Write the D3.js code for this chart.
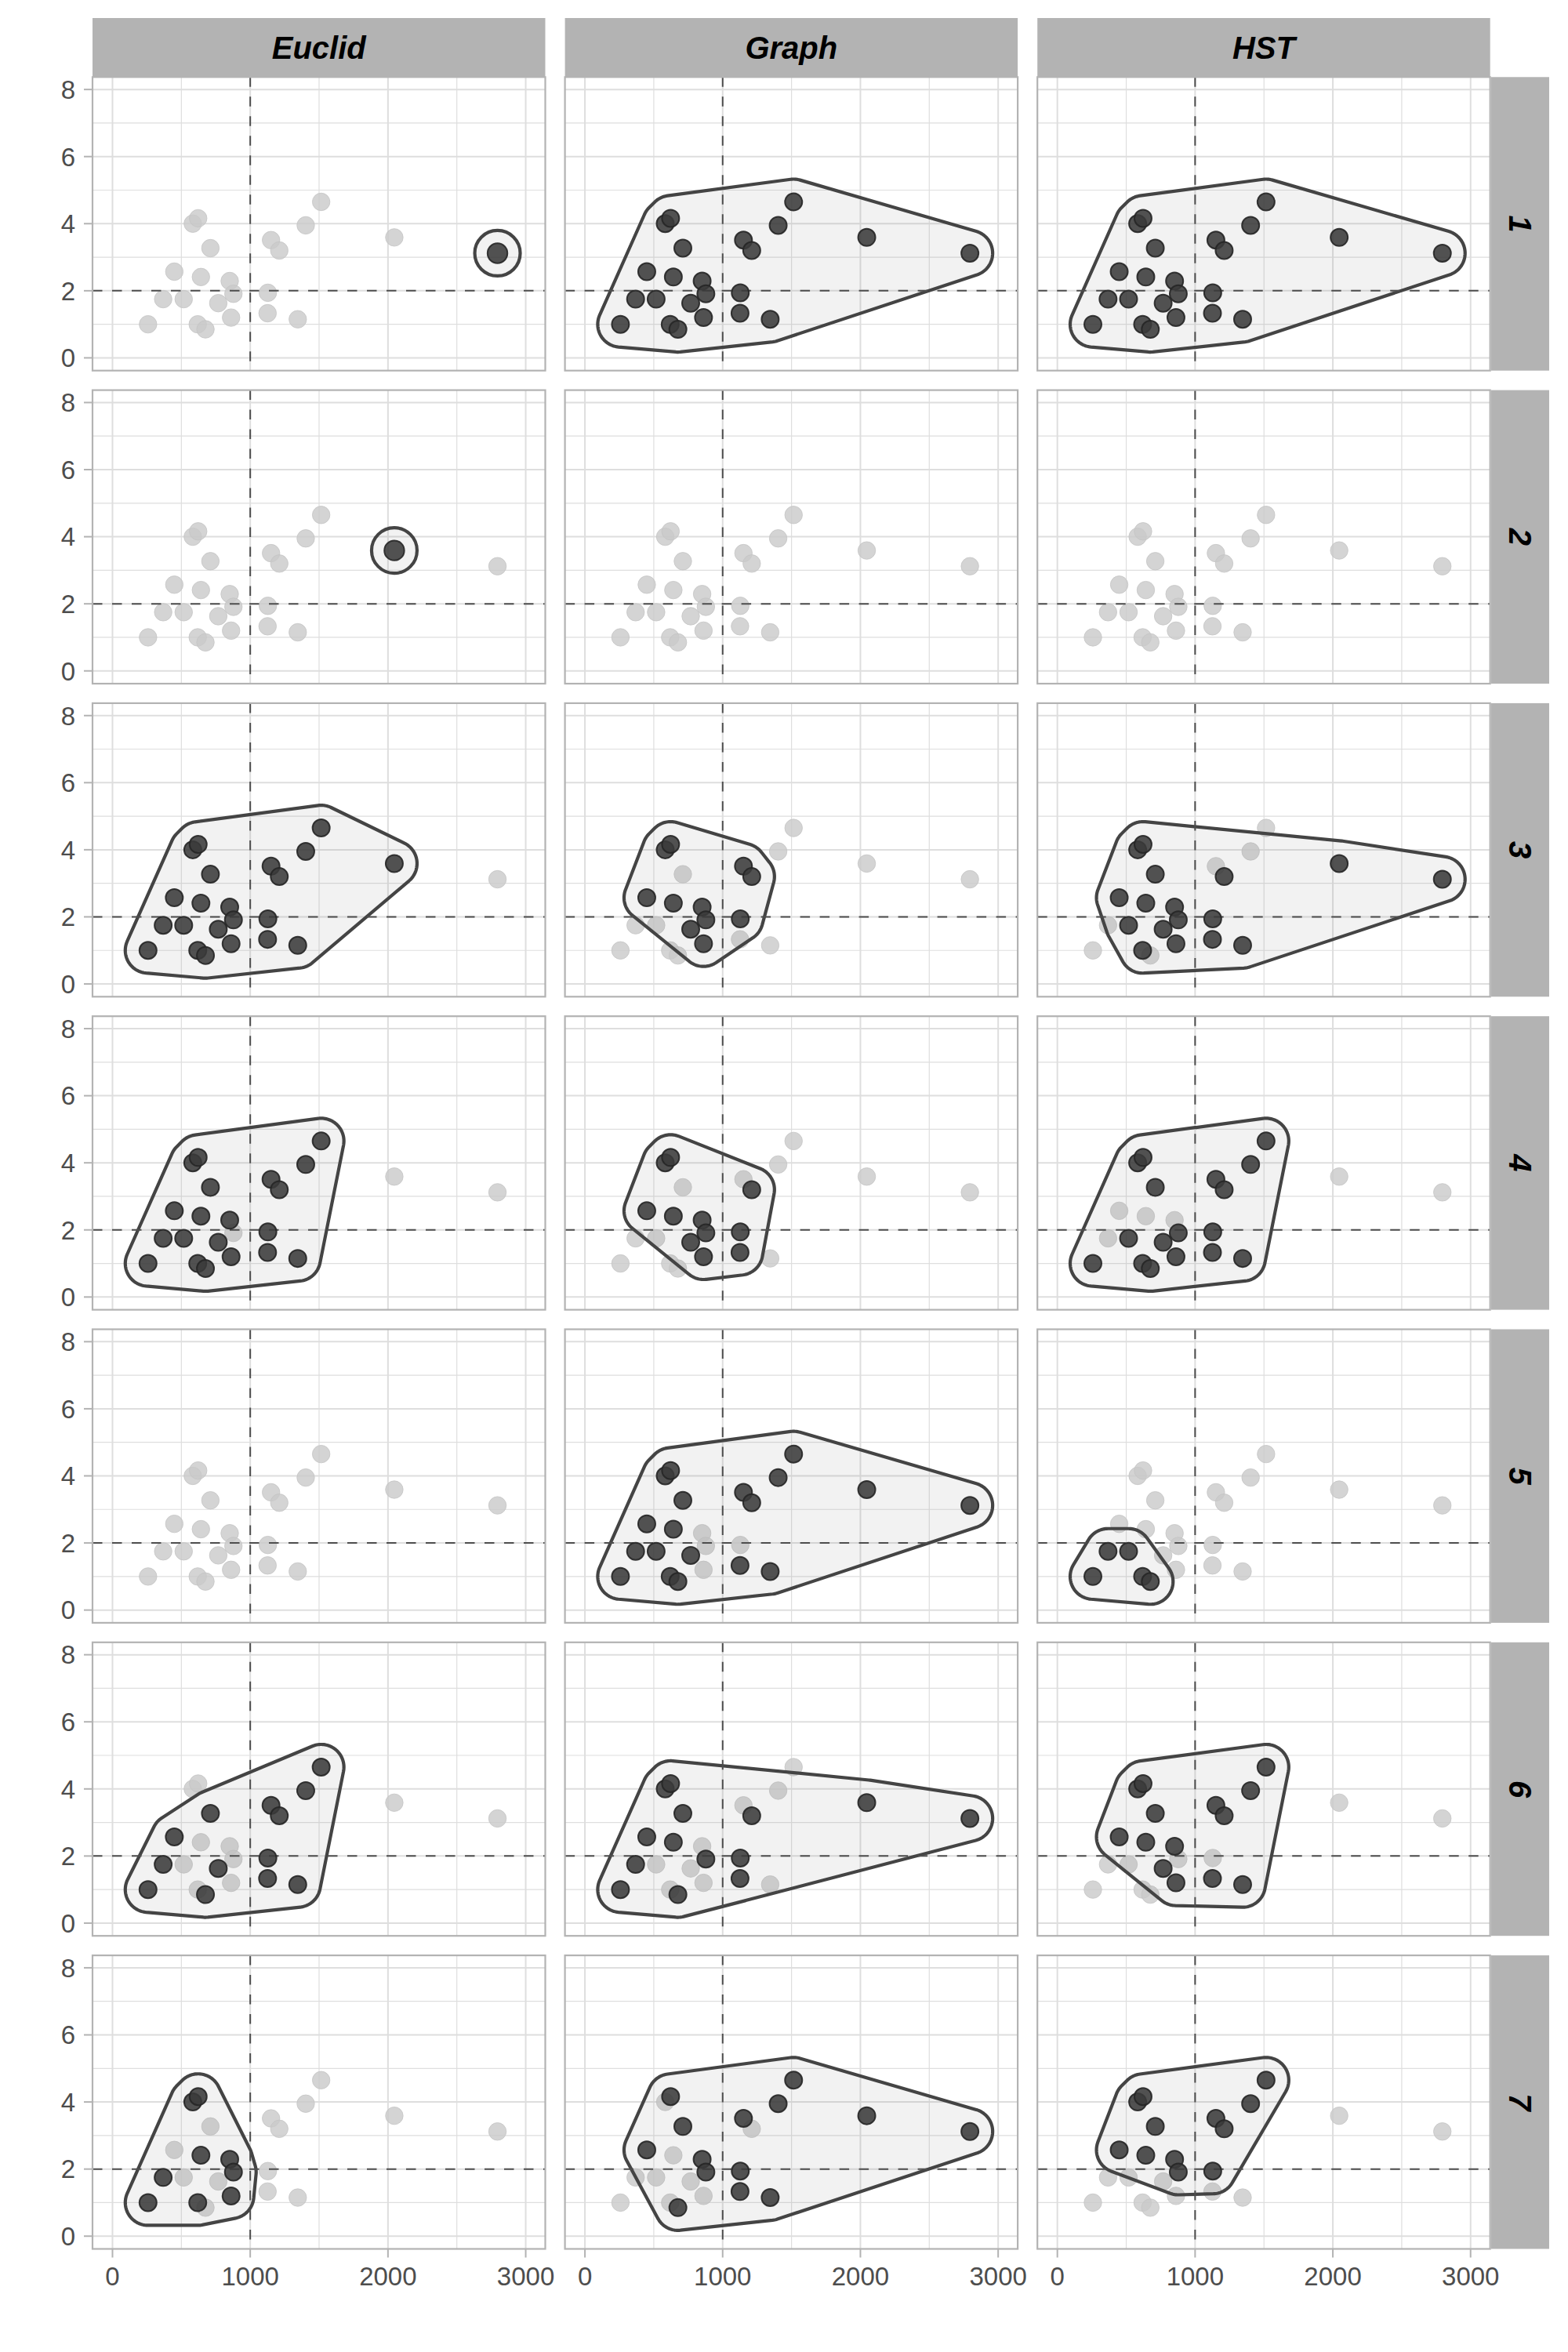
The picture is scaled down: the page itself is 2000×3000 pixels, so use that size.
<!DOCTYPE html>
<html><head><meta charset="utf-8">
<script src="https://cdn.jsdelivr.net/npm/d3@7"></script>
<style>body{margin:0;background:#fff} svg{display:block}</style>
</head><body>
<svg id="chart" width="2000" height="3000"></svg>
<script>
// ---------- data ----------
const methods  = ["Euclid", "Graph", "HST"];
const clusters = ["1", "2", "3", "4", "5", "6", "7"];
const xValues = [258, 368, 517, 449, 642, 583, 622, 711, 619, 675, 768, 851, 878, 861, 1128, 1126, 1151, 1211, 1345, 1403, 1515, 2046, 2795];
const yValues = [1.00, 1.75, 1.75, 2.57, 2.41, 4.00, 4.16, 3.27, 1.00, 0.85, 1.63, 2.29, 1.91, 1.20, 1.94, 1.33, 3.51, 3.20, 1.15, 3.95, 4.65, 3.59, 3.12];
const xTicks = [0, 1000, 2000, 3000];
const xMinor = [500, 1500, 2500];
const yTicks = [0, 2, 4, 6, 8];
const yMinor = [1, 3, 5, 7];
const xRef = 1000, yRef = 2;
// highlighted point indices per cluster (rows) for each method (columns)
const euclidSets = [
  [22],
  [21],
  [0,1,2,3,4,5,6,7,8,9,10,11,12,13,14,15,16,17,18,19,20,21],
  [0,1,2,3,4,5,6,7,8,9,10,11,13,14,15,16,17,18,19,20],
  [],
  [0,1,3,7,9,10,14,15,16,17,18,19,20],
  [0,1,4,5,6,8,11,12,13]
];
const graphSets = [
  [0,1,2,3,4,5,6,7,8,9,10,11,12,13,14,15,16,17,18,19,20,21,22],
  [],
  [3,4,5,6,10,11,12,13,14,16,17],
  [3,4,5,6,10,11,12,13,14,15,17],
  [0,1,2,3,4,5,6,7,8,9,10,15,16,17,18,19,20,21,22],
  [0,1,3,4,5,6,7,9,12,14,15,17,21,22],
  [3,6,7,9,11,12,14,15,16,18,19,20,21,22]
];
const hstSets = [
  [0,1,2,3,4,5,6,7,8,9,10,11,12,13,14,15,16,17,18,19,20,21,22],
  [],
  [2,3,4,5,6,7,8,10,11,12,13,14,15,17,18,21,22],
  [0,2,5,6,7,8,9,10,12,13,14,15,16,17,18,19,20],
  [0,1,2,8,9],
  [3,4,5,6,7,10,11,13,15,16,17,18,19,20],
  [3,4,5,6,7,11,12,14,16,17,19,20]
];
const setsByMethod = [euclidSets, graphSets, hstSets];

// ---------- layout ----------
const colX0 = 118, colPitch = 602.6, panelW = 577.5;
const rowY0 = 98.3, rowPitch = 399.3, panelH = 374.4;
const stripTop = 23;
const rStripX = 1902, rStripW = 74;
const FONT = "'Liberation Sans', Arial, sans-serif";

const x = d3.scaleLinear().domain([-145, 3142]).range([0, panelW]);
const y = d3.scaleLinear().domain([-0.38, 8.37]).range([panelH, 0]);

const svg = d3.select("#chart");
svg.append("rect").attr("width", 2000).attr("height", 3000).attr("fill", "#fff");

const points = xValues.map((v, i) => ({ i, x: v, y: yValues[i] }));

// ---------- hull helpers ----------
function edgeInfo(poly) {
  const n = poly.length;
  const cx = d3.mean(poly, p => p[0]), cy = d3.mean(poly, p => p[1]);
  const out = [];
  for (let i = 0; i < n; i++) {
    const p = poly[i], q = poly[(i + 1) % n];
    let tx = q[0] - p[0], ty = q[1] - p[1];
    const L = Math.hypot(tx, ty) || 1;
    tx /= L; ty /= L;
    let nx = ty, ny = -tx;
    const mx = (p[0] + q[0]) / 2 - cx, my = (p[1] + q[1]) / 2 - cy;
    if (nx * mx + ny * my < 0) { nx = -nx; ny = -ny; }
    out.push({ t: [tx, ty], n: [nx, ny] });
  }
  return out;
}
function roundOffset(poly, r) {
  const E = edgeInfo(poly), n = poly.length, pts = [];
  for (let i = 0; i < n; i++) {
    const v = poly[i], a = E[(i - 1 + n) % n], b = E[i];
    const a0 = Math.atan2(a.n[1], a.n[0]), a1 = Math.atan2(b.n[1], b.n[0]);
    let da = a1 - a0;
    while (da > Math.PI) da -= 2 * Math.PI;
    while (da < -Math.PI) da += 2 * Math.PI;
    const steps = Math.max(1, Math.ceil(Math.abs(da) / (Math.PI / 60)));
    for (let k = 0; k <= steps; k++) {
      const ang = a0 + da * k / steps;
      pts.push([v[0] + r * Math.cos(ang), v[1] + r * Math.sin(ang)]);
    }
  }
  return pts;
}
const EXPAND = 29;
function hullPath(pts) {
  if (pts.length === 1) {
    const [cx, cy] = pts[0];
    const c = d3.path();
    c.arc(cx, cy, EXPAND, 0, 2 * Math.PI);
    c.closePath();
    return c.toString();
  }
  let hull = pts.length >= 3 ? d3.polygonHull(pts) : null;
  if (!hull) hull = pts.slice(0, 2);
  const p2 = roundOffset(hull, EXPAND);
  return "M" + p2.map(p => p[0].toFixed(2) + "," + p[1].toFixed(2)).join("L") + "Z";
}

// ---------- panels ----------
const defs = svg.append("defs");

methods.forEach((m, ci) => {
  const px = colX0 + ci * colPitch;
  svg.append("rect").attr("x", px).attr("y", stripTop)
    .attr("width", panelW).attr("height", rowY0 - stripTop).attr("fill", "#b3b3b3");
  svg.append("text").attr("x", px + panelW / 2).attr("y", 74.5)
    .attr("text-anchor", "middle").attr("font-family", FONT)
    .attr("font-size", 40).attr("font-weight", "bold").attr("font-style", "italic")
    .attr("fill", "#000").text(m);
});

clusters.forEach((cl, ri) => {
  const py = rowY0 + ri * rowPitch;
  svg.append("rect").attr("x", rStripX).attr("y", py)
    .attr("width", rStripW).attr("height", panelH).attr("fill", "#b3b3b3");
  svg.append("text")
    .attr("transform", `translate(${rStripX + rStripW / 2},${py + panelH / 2}) rotate(90)`)
    .attr("x", 0).attr("y", 14.3)
    .attr("text-anchor", "middle").attr("font-family", FONT)
    .attr("font-size", 40).attr("font-weight", "bold").attr("font-style", "italic")
    .attr("fill", "#000").text(cl);

  methods.forEach((m, ci) => {
    const px = colX0 + ci * colPitch;
    const g = svg.append("g").attr("transform", `translate(${px},${py})`);
    const clipId = `clip-${ri}-${ci}`;
    defs.append("clipPath").attr("id", clipId)
      .append("rect").attr("width", panelW).attr("height", panelH);

    g.append("rect").attr("width", panelW).attr("height", panelH).attr("fill", "#fff");
    const inner = g.append("g").attr("clip-path", `url(#${clipId})`);

    inner.selectAll(".gxm").data(xMinor).join("line")
      .attr("x1", d => x(d)).attr("x2", d => x(d)).attr("y1", 0).attr("y2", panelH)
      .attr("stroke", "#dedede").attr("stroke-width", 1.2);
    inner.selectAll(".gym").data(yMinor).join("line")
      .attr("y1", d => y(d)).attr("y2", d => y(d)).attr("x1", 0).attr("x2", panelW)
      .attr("stroke", "#dedede").attr("stroke-width", 1.2);
    inner.selectAll(".gxM").data(xTicks).join("line")
      .attr("x1", d => x(d)).attr("x2", d => x(d)).attr("y1", 0).attr("y2", panelH)
      .attr("stroke", "#dedede").attr("stroke-width", 2);
    inner.selectAll(".gyM").data(yTicks).join("line")
      .attr("y1", d => y(d)).attr("y2", d => y(d)).attr("x1", 0).attr("x2", panelW)
      .attr("stroke", "#dedede").attr("stroke-width", 2);

    const sel = setsByMethod[ci][ri];
    const selSet = new Set(sel);
    const lightPts = points.filter(p => !selSet.has(p.i));
    const darkPts = points.filter(p => selSet.has(p.i));

    inner.selectAll(".lp").data(lightPts).join("circle")
      .attr("cx", d => x(d.x)).attr("cy", d => y(d.y)).attr("r", 11.2)
      .attr("fill", "#c9c9c9").attr("fill-opacity", 0.8)
      .attr("stroke", "#c4c4c4").attr("stroke-opacity", 0.8).attr("stroke-width", 1);

    if (darkPts.length) {
      const pix = darkPts.map(d => [x(d.x), y(d.y)]);
      inner.append("path").attr("d", hullPath(pix))
        .attr("fill", "#808080").attr("fill-opacity", 0.1)
        .attr("stroke", "#444444").attr("stroke-width", 4.2).attr("stroke-linejoin", "round");
    }

    inner.append("line").attr("x1", x(xRef)).attr("x2", x(xRef)).attr("y1", 0).attr("y2", panelH)
      .attr("stroke", "#4d4d4d").attr("stroke-width", 2).attr("stroke-dasharray", "12.5,12.5");
    inner.append("line").attr("y1", y(yRef)).attr("y2", y(yRef)).attr("x1", 0).attr("x2", panelW)
      .attr("stroke", "#4d4d4d").attr("stroke-width", 2).attr("stroke-dasharray", "12.5,12.5");

    const darkR = darkPts.length === 1 ? 12.7 : 11;
    inner.selectAll(".dp").data(darkPts).join("circle")
      .attr("cx", d => x(d.x)).attr("cy", d => y(d.y)).attr("r", darkR)
      .attr("fill", "#3a3a3a").attr("fill-opacity", 0.88)
      .attr("stroke", "#262626").attr("stroke-opacity", 0.9).attr("stroke-width", 2);

    g.append("rect").attr("width", panelW).attr("height", panelH)
      .attr("fill", "none").attr("stroke", "#b3b3b3").attr("stroke-width", 2.2);

    if (ci === 0) {
      g.selectAll(".yt").data(yTicks).join("line")
        .attr("x1", -11).attr("x2", 0).attr("y1", d => y(d)).attr("y2", d => y(d))
        .attr("stroke", "#b3b3b3").attr("stroke-width", 2);
      g.selectAll(".yl").data(yTicks).join("text")
        .attr("x", -22).attr("y", d => y(d) + 11.8)
        .attr("text-anchor", "end").attr("font-family", FONT).attr("font-size", 33)
        .attr("fill", "#4d4d4d").text(d => d);
    }
    if (ri === clusters.length - 1) {
      g.selectAll(".xt").data(xTicks).join("line")
        .attr("y1", panelH).attr("y2", panelH + 11).attr("x1", d => x(d)).attr("x2", d => x(d))
        .attr("stroke", "#b3b3b3").attr("stroke-width", 2);
      g.selectAll(".xl").data(xTicks).join("text")
        .attr("x", d => x(d)).attr("y", panelH + 47)
        .attr("text-anchor", "middle").attr("font-family", FONT).attr("font-size", 33)
        .attr("fill", "#4d4d4d").text(d => d);
    }
  });
});
</script>
</body></html>
